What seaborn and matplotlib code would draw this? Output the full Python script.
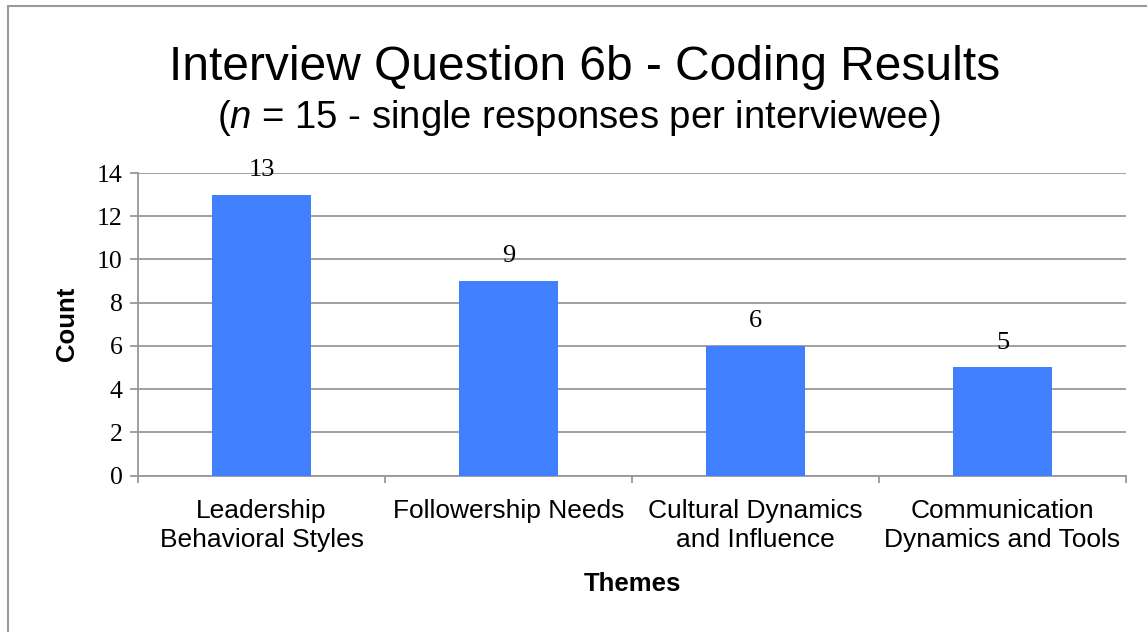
import matplotlib
matplotlib.use("Agg")
import matplotlib.pyplot as plt
import seaborn as sns
import pandas as pd
from matplotlib.lines import Line2D

categories = ["Leadership\nBehavioral Styles", "Followership Needs",
              "Cultural Dynamics\nand Influence", "Communication\nDynamics and Tools"]
counts = [13, 9, 6, 5]
yticks = [0, 2, 4, 6, 8, 10, 12, 14]

sns.set_theme(style="white")
plt.rcParams['font.family'] = ['Liberation Sans', 'DejaVu Sans']
plt.rcParams['mathtext.fontset'] = 'custom'
plt.rcParams['mathtext.it'] = 'Liberation Sans:italic'
plt.rcParams['mathtext.rm'] = 'Liberation Sans'
plt.rcParams['text.color'] = 'black'
plt.rcParams['axes.labelcolor'] = 'black'
plt.rcParams['xtick.color'] = 'black'
plt.rcParams['ytick.color'] = 'black'

df = pd.DataFrame({"Theme": categories, "Count": counts})

fig = plt.figure(figsize=(11.47, 6.32), dpi=100)
ax = fig.add_axes([138/1147, (632-475.5)/632, (1126-138)/1147, (475.5-173)/632])

sns.barplot(data=df, x="Theme", y="Count", color="#4080FF", width=0.4,
            saturation=1, ax=ax, zorder=3, edgecolor="none")

gray = "#999999"
ax.set_ylim(0, 14)
ax.set_xlim(-0.5, 3.5)
ax.set_yticks(yticks)
ax.set_yticklabels([str(t) for t in yticks], fontfamily="Liberation Serif", fontsize=18.5)
ax.yaxis.grid(True, color=gray, linewidth=1.3, zorder=0)
ax.set_axisbelow(True)
for s in ["top", "right"]:
    ax.spines[s].set_visible(False)
for s in ["left", "bottom"]:
    ax.spines[s].set_color(gray)
    ax.spines[s].set_linewidth(1.3)
ax.tick_params(axis="y", left=True, length=6, width=1.3, color=gray, labelcolor="black", pad=5)
ax.set_xticks(range(len(categories)))
ax.set_xticklabels(categories, fontsize=19, linespacing=1.28)
ax.tick_params(axis="x", bottom=False, pad=11, labelcolor="black")
ax.set_xticks([-0.5, 0.5, 1.5, 2.5, 3.5], minor=True)
ax.tick_params(axis="x", which="minor", bottom=True, length=5, width=1.3, color=gray)

for i, v in enumerate(counts):
    ax.annotate(str(v), (i, v), xytext=(0, 10), textcoords="offset points",
                ha="center", va="bottom", fontfamily="Liberation Serif", fontsize=19,
                color="black")

ax.set_xlabel("Themes", fontsize=18.5, fontweight="bold", labelpad=14, color="black")
ax.set_ylabel("Count", fontsize=18.5, fontweight="bold", labelpad=13, color="black")

fig.text(585/1147, 1 - 80/632, "Interview Question 6b - Coding Results",
         ha="center", va="baseline", fontsize=34.5, color="black")
fig.text(579/1147, 1 - 128/632, r"($\mathit{n}$ = 15 - single responses per interviewee)",
         ha="center", va="baseline", fontsize=27.5, color="black")

fig.add_artist(Line2D([8/1147, 1], [1 - 6/632, 1 - 6/632], color=gray, linewidth=1.5,
                      transform=fig.transFigure))
fig.add_artist(Line2D([8/1147, 8/1147], [0, 1 - 6/632], color=gray, linewidth=1.5,
                      transform=fig.transFigure))

fig.savefig("out.png", dpi=100)
